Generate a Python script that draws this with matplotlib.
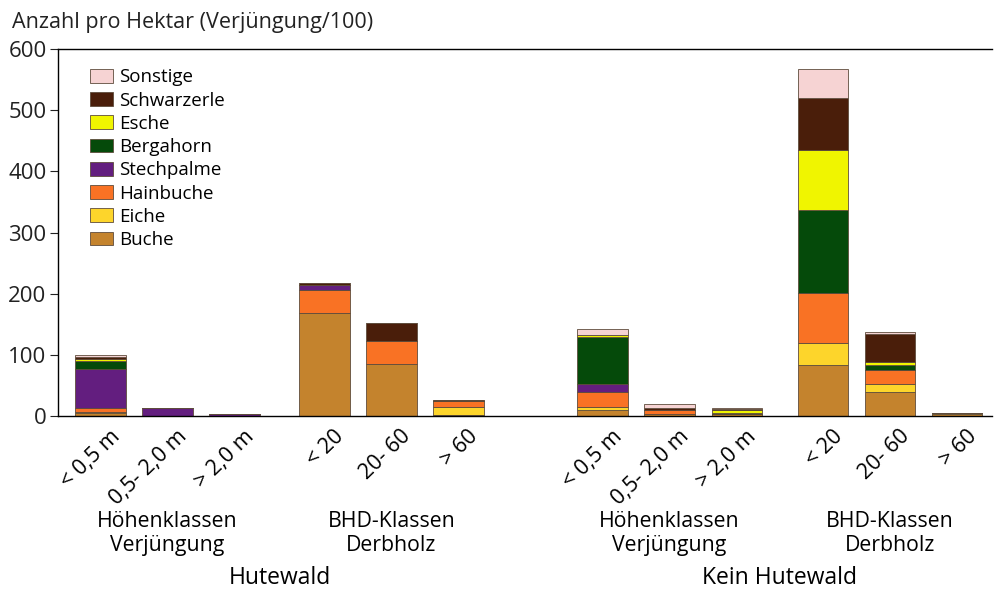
import numpy as np
import matplotlib.pyplot as plt
import matplotlib.transforms as mtransforms
from matplotlib.patches import Patch

plt.rcParams['font.family'] = ['Open Sans', 'DejaVu Sans']

# classes (Hutewald, then Kein Hutewald)
klassen = ['< 0,5 m', '0,5- 2,0 m', '> 2,0 m', '< 20', '20- 60', '> 60',
           '< 0,5 m', '0,5- 2,0 m', '> 2,0 m', '< 20', '20- 60', '> 60']

arten = ['Buche', 'Eiche', 'Hainbuche', 'Stechpalme', 'Bergahorn',
         'Esche', 'Schwarzerle', 'Sonstige']

buche       = [5, 0, 0, 169, 85, 2,   10, 3, 3, 83, 39, 4]
eiche       = [1, 0, 0, 0, 0, 12,     4, 0, 0, 37, 13, 1]
hainbuche   = [7, 0, 0, 37, 38, 11,   26, 6, 1, 81, 23, 0]
stechpalme  = [64, 13, 3, 9, 0, 0,    12, 0, 0, 0, 0, 0]
bergahorn   = [13, 0, 0, 0, 0, 0,     77, 0, 1, 136, 8, 0]
esche       = [3, 0, 0, 0, 0, 0,      3, 1, 5, 98, 6, 0]
schwarzerle = [4, 0, 0, 3, 29, 1,     0, 3, 1, 86, 45, 0]
sonstige    = [3, 0, 0, 0, 0, 0,      10, 7, 2, 46, 4, 0]

werte = [buche, eiche, hainbuche, stechpalme, bergahorn, esche, schwarzerle, sonstige]
farben = ['#c4832d', '#fdd52b', '#f97224', '#631e7f', '#054a0a',
          '#f0f500', '#4a1e0a', '#f6d3d3']

gruppen = ['Höhenklassen\nVerjüngung', 'BHD-Klassen\nDerbholz',
           'Höhenklassen\nVerjüngung', 'BHD-Klassen\nDerbholz']
bestand = ['Hutewald', 'Kein Hutewald']

x = np.array([0, 1, 2, 3.34, 4.34, 5.34, 7.49, 8.49, 9.49, 10.78, 11.78, 12.78])

fig = plt.figure(figsize=(9.94, 5.93), dpi=100)
ax = fig.add_axes([0.058, 0.2985, 0.94, 0.6185])

unten = np.zeros(len(x))
for w, c in zip(werte, farben):
    w = np.array(w, dtype=float)
    ax.bar(x, w, 0.75, bottom=unten, color=c, edgecolor='#5e4c3c', linewidth=0.6)
    unten += w

ax.set_xlim(-0.64, 13.3)
ax.set_ylim(0, 600)
ax.set_yticks(range(0, 601, 100))
ax.tick_params(axis='y', labelsize=16, length=6, width=0.8, colors='#222222', pad=2)
ax.set_xticks(x)
ax.set_xticklabels(klassen, rotation=44, ha='right', rotation_mode='anchor', fontsize=15.5)
ax.tick_params(axis='x', length=0, pad=7)
offset = mtransforms.ScaledTranslation(0.09, 0, fig.dpi_scale_trans)
for lab in ax.get_xticklabels():
    lab.set_transform(lab.get_transform() + offset)
ax.spines['right'].set_visible(False)
for s in ['left', 'top', 'bottom']:
    ax.spines[s].set_linewidth(1.0)

fig.text(0.012, 0.962, 'Anzahl pro Hektar (Verjüngung/100)', fontsize=15.5,
         color='#222222', va='center')

# group labels below the tick labels
for gx, g in zip([1, 4.34, 8.49, 11.78], gruppen):
    ax.text(gx, -0.32, g, transform=ax.get_xaxis_transform(), ha='center', va='center',
            fontsize=15.3, linespacing=1.2)
for bx, b in zip([2.67, 10.13], bestand):
    ax.text(bx, -0.443, b, transform=ax.get_xaxis_transform(), ha='center', va='center',
            fontsize=16.5)

handles = [Patch(facecolor=c, edgecolor='#5e4c3c', linewidth=0.6, label=a)
           for a, c in zip(arten, farben)][::-1]
ax.legend(handles=handles, loc='upper left', bbox_to_anchor=(0.035, 0.948), frameon=False,
          fontsize=13.5, handlelength=1.2, handleheight=0.75, labelspacing=0.28,
          handletextpad=0.35, borderpad=0, borderaxespad=0)

fig.savefig('out.png', dpi=100)
